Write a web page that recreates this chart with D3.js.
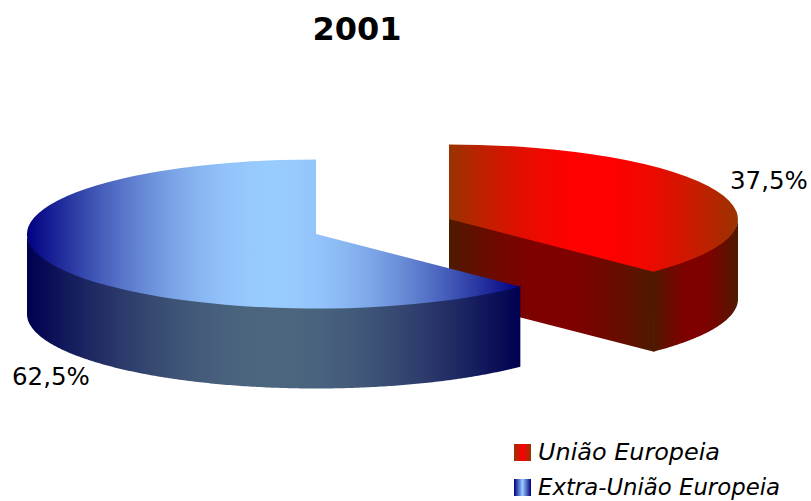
<!DOCTYPE html>
<html lang="pt">

<head>
  <meta charset="utf-8">
  <script src="https://cdn.jsdelivr.net/npm/d3@7"></script>
  <title>2001</title>
  <style>
    html, body { margin: 0; padding: 0; background: #fff; overflow: hidden; }
    text { font-family: "DejaVu Sans", sans-serif; fill: #000; }
  </style>
</head>

<body>
  <div id="chart"></div>
  <script>
    var title = '2001';
    var categories = ['União Europeia', 'Extra-União Europeia'];
    var values = [37.5, 62.5];
    var valueLabels = ['37,5%', '62,5%'];

    var width = 811, height = 501;
    var rx = 289, ry = 74.5, depth = 80;

    // Each slice is pulled to its own centre, the pie is exploded.
    var centres = [{ x: 449, y: 219 }, { x: 316, y: 234 }];
    var labelPos = [{ x: 730, y: 189 }, { x: 12, y: 385 }];
    var legendY = [444, 479];
    var legendWidths = [182, 242];

    // edge / middle colours for the lit top and the darker walls
    var topColours = [['#993300', '#ff0000'], ['#000080', '#99ccff']];
    var wallColours = [['#4d1a00', '#800000'], ['#000050', '#4c667f']];

    var svg = d3.select('#chart').append('svg')
      .attr('width', width)
      .attr('height', height);

    var defs = svg.append('defs');

    // The shading is a cylinder: it stays bright over a wide middle and falls off at the edges.
    function gradient(id, c) {
      var g = defs.append('linearGradient').attr('id', id);
      var mix = d3.interpolateRgb(c[0], c[1]);
      d3.range(21).forEach(function(i) {
        var t = i / 20;
        g.append('stop')
          .attr('offset', (t * 100) + '%')
          .attr('stop-color', mix(Math.sin(t * Math.PI)));
      });
      return 'url(#' + id + ')';
    }

    // Legend keys are too small for the cylinder look, a plain ramp reads closer.
    function keyGradient(id, c) {
      var g = defs.append('linearGradient').attr('id', id);
      g.append('stop').attr('offset', '0%').attr('stop-color', c[0]);
      g.append('stop').attr('offset', '50%').attr('stop-color', c[1]);
      g.append('stop').attr('offset', '100%').attr('stop-color', c[0]);
      return 'url(#' + id + ')';
    }

    var pie = d3.pie().sort(null).startAngle(0).endAngle(2 * Math.PI);
    var slices = pie(values);

    // angle 0 is at the top, going clockwise
    function px(c, a) { return c.x + rx * Math.sin(a); }
    function py(c, a) { return c.y - ry * Math.cos(a); }

    function rimPoints(c, a0, a1) {
      var n = Math.ceil((a1 - a0) / 0.01);
      return d3.range(n + 1).map(function(i) {
        var a = a0 + (a1 - a0) * i / n;
        return [px(c, a), py(c, a)];
      });
    }

    var line = d3.line();

    slices.forEach(function(s, i) {
      var c = centres[i];
      var g = svg.append('g');

      // cut face towards the viewer, a bit wider so no seam shows against the wall
      if (Math.sin(s.endAngle) > 1e-6) {
        var ex = px(c, s.endAngle), ey = py(c, s.endAngle);
        g.append('path')
          .attr('d', line([[c.x, c.y - 1], [ex + 0.6, ey - 1], [ex + 0.6, ey + depth], [c.x, c.y + depth]]) + 'Z')
          .attr('fill', gradient('cut' + i, wallColours[i]));
      }

      // outer wall, only the front half of the rim shows
      var a0 = Math.max(s.startAngle, Math.PI / 2);
      var a1 = Math.min(s.endAngle, 3 * Math.PI / 2);
      if (a1 > a0) {
        var rim = rimPoints(c, a0, a1);
        var low = rim.map(function(p) { return [p[0], p[1] + depth]; }).reverse();
        var high = rim.map(function(p) { return [p[0], p[1] - 1]; });
        g.append('path')
          .attr('d', line(high.concat(low)) + 'Z')
          .attr('fill', gradient('wall' + i, wallColours[i]));
      }

      // top of the slice
      var arc = d3.arc().innerRadius(0).outerRadius(1);
      g.append('path')
        .attr('d', arc(s))
        .attr('transform', 'translate(' + c.x + ',' + c.y + ') scale(' + rx + ',' + ry + ')')
        .attr('fill', gradient('top' + i, topColours[i]));
    });

    svg.append('text')
      .attr('x', 357)
      .attr('y', 40)
      .attr('text-anchor', 'middle')
      .style('font-size', '32px')
      .style('font-weight', 'bold')
      .text(title);

    svg.selectAll('.value')
      .data(valueLabels)
      .enter().append('text')
      .attr('class', 'value')
      .attr('x', function(d, i) { return labelPos[i].x; })
      .attr('y', function(d, i) { return labelPos[i].y; })
      .style('font-size', '24.5px')
      .text(function(d) { return d; });

    var legend = svg.selectAll('.legend')
      .data(categories)
      .enter().append('g')
      .attr('class', 'legend')
      .attr('transform', function(d, i) { return 'translate(514,' + legendY[i] + ')'; });

    legend.append('rect')
      .attr('width', 17)
      .attr('height', 17)
      .attr('fill', function(d, i) { return keyGradient('key' + i, topColours[i]); });

    legend.append('text')
      .attr('x', 24)
      .attr('y', 16)
      .attr('textLength', function(d, i) { return legendWidths[i]; })
      .attr('lengthAdjust', 'spacingAndGlyphs')
      .style('font-size', '23px')
      .style('font-style', 'italic')
      .text(function(d) { return d; });
  </script>
</body>

</html>
